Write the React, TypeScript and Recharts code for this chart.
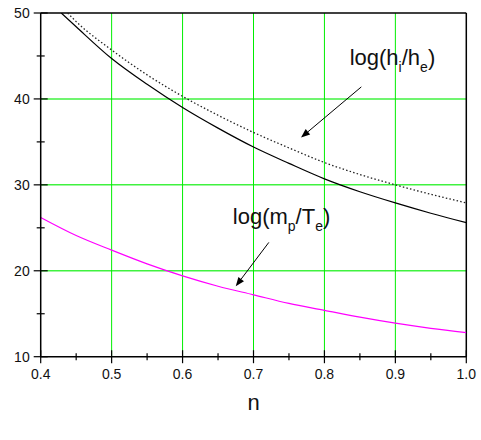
import { Line, LineChart, ReferenceDot, ReferenceLine, XAxis, YAxis } from 'recharts'

// log(h_i/h_e), solid
const hN = [0.429, 0.45, 0.5, 0.55, 0.6, 0.65, 0.7, 0.75, 0.8, 0.85, 0.9, 0.95, 1.0]
const hVal = [50.0, 48.4, 44.7, 41.7, 39.0, 36.6, 34.4, 32.5, 30.7, 29.2, 27.9, 26.7, 25.6]
// upper dotted curve
const dN = [0.438, 0.45, 0.5, 0.55, 0.6, 0.65, 0.7, 0.75, 0.8, 0.85, 0.9, 0.95, 1.0]
const dVal = [50.0, 49.0, 45.7, 42.8, 40.3, 38.1, 36.1, 34.3, 32.6, 31.2, 30.0, 28.9, 27.9]
// log(m_p/T_e), magenta
const mN = [0.4, 0.45, 0.5, 0.55, 0.6, 0.65, 0.7, 0.75, 0.8, 0.85, 0.9, 0.95, 1.0]
const mVal = [26.2, 24.1, 22.4, 20.8, 19.4, 18.2, 17.2, 16.2, 15.4, 14.6, 13.9, 13.3, 12.8]

const xTicks = [0.4, 0.45, 0.5, 0.55, 0.6, 0.65, 0.7, 0.75, 0.8, 0.85, 0.9, 0.95, 1.0]
const yTicks = [10, 15, 20, 25, 30, 35, 40, 45, 50]
const xGrid = [0.5, 0.6, 0.7, 0.8, 0.9]
const yGrid = [20, 30, 40]

const toRows = (xs: number[], ys: number[]) => xs.map((n, i) => ({ n, v: ys[i] }))

const FONT = '"Liberation Sans", Arial, sans-serif'
const GREEN = '#00ee00'

const XTick = (props: any) => {
  const { x, y, payload } = props
  const major = Math.round(payload.value * 100) % 10 === 0
  const h = major ? 6.5 : 3.5
  return (
    <g>
      <line x1={x} x2={x} y1={y - h} y2={y + h} stroke="#000" strokeWidth={1.2} />
      {major && (
        <text x={x} y={y + 22} textAnchor="middle" fontSize={14} fontFamily={FONT} fill="#111">
          {payload.value.toFixed(1)}
        </text>
      )}
    </g>
  )
}

const YTick = (props: any) => {
  const { x, y, payload } = props
  const major = payload.value % 10 === 0
  const h = major ? 7 : 4
  return (
    <g>
      <line x1={x - h} x2={x + h} y1={y} y2={y} stroke="#000" strokeWidth={1.2} />
      {major && (
        <text x={x - 11} y={y + 5} textAnchor="end" fontSize={14} fontFamily={FONT} fill="#111">
          {payload.value}
        </text>
      )}
    </g>
  )
}

const Arrow = (props: any) => {
  const { x1, y1, x2, y2 } = props
  const ang = Math.atan2(y2 - y1, x2 - x1)
  const len = 9
  const w = 3.5
  const bx = x2 - len * Math.cos(ang)
  const by = y2 - len * Math.sin(ang)
  const px = -Math.sin(ang) * w
  const py = Math.cos(ang) * w
  return (
    <g>
      <line x1={x1} y1={y1} x2={bx} y2={by} stroke="#000" strokeWidth={1} />
      <polygon points={`${x2},${y2} ${bx + px},${by + py} ${bx - px},${by - py}`} fill="#000" />
    </g>
  )
}

const LabelText = (main: string, sub1: string, mid: string, sub2: string) => (props: any) => {
  const { cx, cy } = props
  return (
    <text x={cx} y={cy} fontSize={22} fontFamily={FONT} fill="#111">
      {main}
      <tspan fontSize={14} dy={7}>{sub1}</tspan>
      <tspan dy={-7}>{mid}</tspan>
      <tspan fontSize={14} dy={7}>{sub2}</tspan>
      <tspan dy={-7}>)</tspan>
    </text>
  )
}

export default function App() {
  return (
    <div style={{ position: 'absolute', left: 0, top: 0, width: 481, height: 440 }}>
      <LineChart width={481} height={440} margin={{ top: 13, right: 14.7, left: 8, bottom: 27.3 }}>
        <XAxis
          dataKey="n"
          type="number"
          domain={[0.4, 1.0]}
          ticks={xTicks}
          allowDataOverflow
          interval={0}
          height={56}
          tickSize={0}
          tickMargin={0}
          tickLine={false}
          axisLine={{ stroke: '#000', strokeWidth: 1.5 }}
          tick={<XTick />}
          label={{ value: 'n', position: 'insideBottom', offset: 3, fontSize: 22, fontFamily: FONT, fill: '#111' }}
        />
        <YAxis
          type="number"
          domain={[10, 50]}
          ticks={yTicks}
          allowDataOverflow
          interval={0}
          width={32.7}
          tickSize={0}
          tickMargin={0}
          tickLine={false}
          axisLine={{ stroke: '#000', strokeWidth: 1.5 }}
          tick={<YTick />}
        />
        {xGrid.map((v) => (
          <ReferenceLine key={'x' + v} x={v} stroke={GREEN} strokeWidth={1} />
        ))}
        {yGrid.map((v) => (
          <ReferenceLine key={'y' + v} y={v} stroke={GREEN} strokeWidth={1.5} strokeOpacity={0.75} />
        ))}
        <ReferenceLine y={50} stroke="#000" strokeWidth={1.5} />
        <ReferenceLine x={1.0} stroke="#000" strokeWidth={1.5} />
        <Line data={toRows(dN, dVal)} dataKey="v" type="monotone" stroke="#222" strokeWidth={1.3} strokeDasharray="1.5 2.2" dot={false} isAnimationActive={false} />
        <Line data={toRows(hN, hVal)} dataKey="v" type="monotone" stroke="#000" strokeWidth={1.2} dot={false} isAnimationActive={false} />
        <Line data={toRows(mN, mVal)} dataKey="v" type="monotone" stroke="#ff00ff" strokeWidth={1.2} dot={false} isAnimationActive={false} />
        <ReferenceLine segment={[{ x: 0.852, y: 41.4 }, { x: 0.767, y: 35.5 }]} shape={<Arrow />} />
        <ReferenceLine segment={[{ x: 0.7216, y: 23.3 }, { x: 0.675, y: 18.2 }]} shape={<Arrow />} />
        <ReferenceDot x={0.8356} y={43.94} r={0} shape={LabelText('log(h', 'i', '/h', 'e')} />
        <ReferenceDot x={0.6708} y={25.5} r={0} shape={LabelText('log(m', 'p', '/T', 'e')} />
      </LineChart>
    </div>
  )
}
